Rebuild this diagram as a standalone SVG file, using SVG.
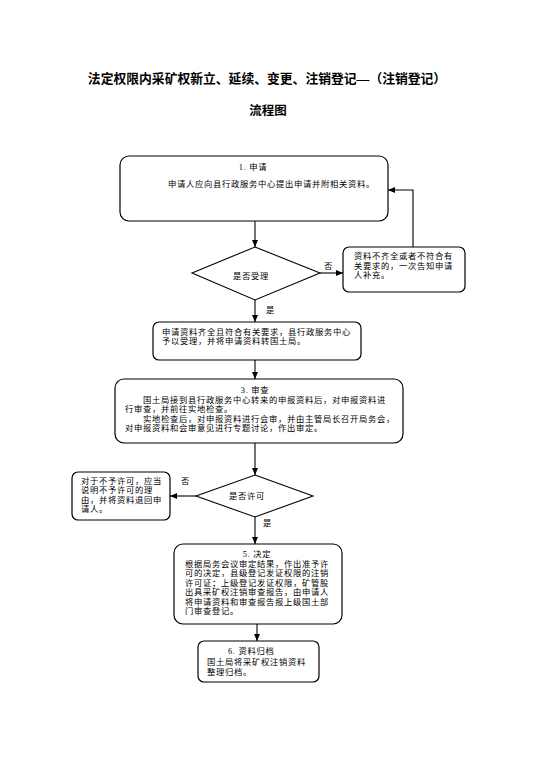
<svg xmlns="http://www.w3.org/2000/svg" width="542" height="768" viewBox="0 0 542 768">
<style>
text{font-family:"Liberation Serif","Noto Sans CJK SC",serif;fill:#000;}
.t{font-size:8.3px;letter-spacing:0.7px;}
.c{text-anchor:middle;}
.title{font-size:12.8px;font-weight:bold;text-anchor:middle;}
.box{fill:#fff;stroke:#000;stroke-width:1.2;}
.dia{fill:#fff;stroke:#000;stroke-width:1.1;}
.ln{fill:none;stroke:#000;stroke-width:1.1;marker-end:url(#ah);}
</style>
<defs>
<marker id="ah" markerWidth="7" markerHeight="6" refX="7" refY="3" orient="auto" markerUnits="userSpaceOnUse">
<path d="M0,0 L7,3 L0,6 z" fill="#000"/>
</marker>
</defs>
<rect width="542" height="768" fill="#fff"/>
<text class="title" x="267" y="82.5">法定权限内采矿权新立、延续、变更、注销登记—（注销登记）</text>
<text class="title" x="268" y="114.5" style="font-size:12.5px">流程图</text>

<g id="connectors">
<line class="ln" x1="255" y1="221" x2="255" y2="247"/>
<line class="ln" x1="320" y1="273" x2="343" y2="273"/>
<polyline class="ln" points="413,247 413,190 388,190"/>
<line class="ln" x1="255" y1="300" x2="255" y2="322"/>
<line class="ln" x1="255" y1="360" x2="255" y2="379"/>
<line class="ln" x1="255" y1="443" x2="255" y2="475"/>
<line class="ln" x1="196" y1="496" x2="170" y2="496"/>
<line class="ln" x1="255" y1="517" x2="255" y2="544"/>
<line class="ln" x1="257" y1="624" x2="257" y2="641"/>
<text class="t" x="324" y="268.5">否</text>
<text class="t" x="266" y="313">是</text>
<text class="t" x="181" y="483.5">否</text>
<text class="t" x="263" y="526">是</text>
</g>

<g id="n1">
<rect class="box" x="120" y="156" width="268" height="65" rx="9"/>
<text class="t c" x="253" y="170">1. 申请</text>
<text class="t" x="168" y="187">申请人应向县行政服务中心提出申请并附相关资料。</text>
</g>

<g id="d1">
<polygon class="dia" points="255,247 320,273 255,300 192,273"/>
<text class="t c" x="251" y="279">是否受理</text>
</g>

<g id="n_reject1">
<rect class="box" x="343" y="247" width="122" height="45" rx="6"/>
<text class="t"><tspan x="354" y="259">资料不齐全或者不符合有</tspan><tspan x="354" y="268.5">关要求的，一次告知申请</tspan><tspan x="354" y="278">人补充。</tspan></text>
</g>

<g id="n2">
<rect class="box" x="153" y="322" width="208" height="38" rx="6"/>
<text class="t"><tspan x="162" y="334.5">申请资料齐全且符合有关要求，县行政服务中心</tspan><tspan x="162" y="344">予以受理，并将申请资料转国土局。</tspan></text>
</g>

<g id="n3">
<rect class="box" x="115" y="379" width="288" height="64" rx="9"/>
<text class="t"><tspan x="255" y="393" text-anchor="middle">3. 审查</tspan><tspan x="143" y="402.5">国土局接到县行政服务中心转来的申报资料后，对申报资料进</tspan><tspan x="125" y="412">行审查，并前往实地检查。</tspan><tspan x="143" y="421.5">实地检查后，对申报资料进行会审，并由主管局长召开局务会，</tspan><tspan x="125" y="431">对申报资料和会审意见进行专题讨论，作出审定。</tspan></text>
</g>

<g id="d2">
<polygon class="dia" points="255,475 313,496 255,517 196,496"/>
<text class="t c" x="247" y="498.5">是否许可</text>
</g>

<g id="n_reject2">
<rect class="box" x="72" y="472" width="98" height="48" rx="6"/>
<text class="t"><tspan x="81" y="483.5">对于不予许可，应当</tspan><tspan x="81" y="493">说明不予许可的理</tspan><tspan x="81" y="502.5">由，并将资料退回申</tspan><tspan x="81" y="512">请人。</tspan></text>
</g>

<g id="n5">
<rect class="box" x="174" y="544" width="168" height="80" rx="9"/>
<text class="t"><tspan x="257" y="557" text-anchor="middle">5. 决定</tspan><tspan x="185" y="566.5">根据局务会议审定结果，作出准予许</tspan><tspan x="185" y="576">可的决定，县级登记发证权限的注销</tspan><tspan x="185" y="585.5">许可证；上级登记发证权限，矿管股</tspan><tspan x="185" y="595">出具采矿权注销审查报告，由申请人</tspan><tspan x="185" y="604.5">将申请资料和审查报告报上级国土部</tspan><tspan x="185" y="614">门审查登记。</tspan></text>
</g>

<g id="n6">
<rect class="box" x="198" y="641" width="121" height="41" rx="6"/>
<text class="t"><tspan x="228" y="653.5">6. 资料归档</tspan><tspan x="207" y="664.5">国土局将采矿权注销资料</tspan><tspan x="207" y="675">整理归档。</tspan></text>
</g>
</svg>
